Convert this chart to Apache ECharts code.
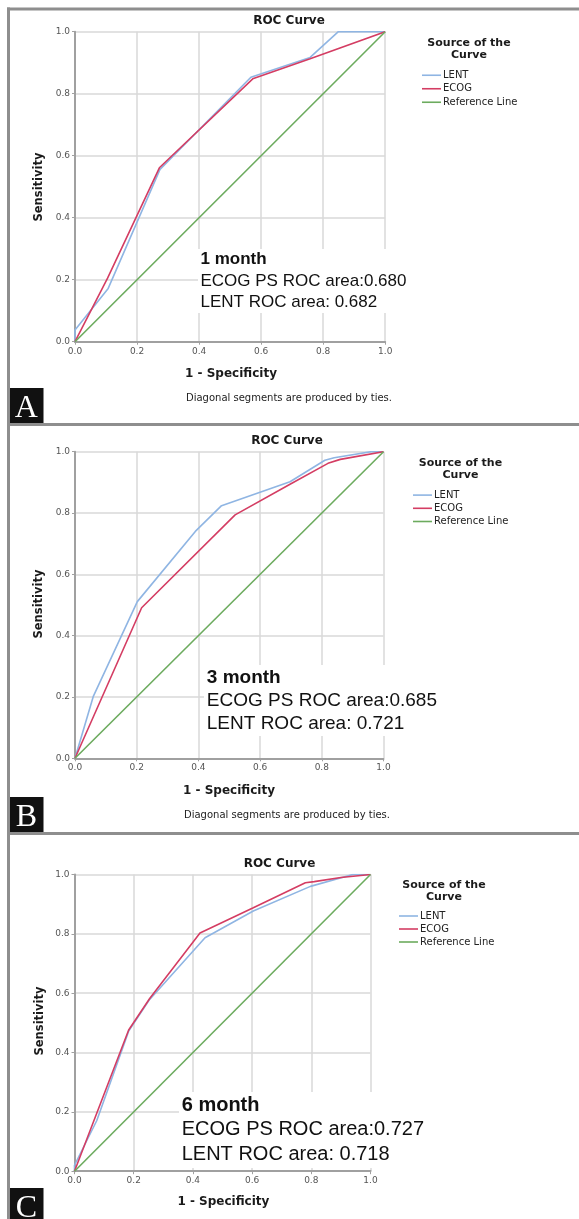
<!DOCTYPE html>
<html>
<head>
<meta charset="utf-8">
<script src="https://cdn.jsdelivr.net/npm/echarts@6/dist/echarts.min.js"></script>
<style>
html,body{margin:0;padding:0;background:#fff;}
#c{width:579px;height:1219px;}
</style>
</head>
<body>
<div id="c"></div>
<script>
// ---- data (1 - specificity, sensitivity) ----
const A_LENT = [[0,0],[0,0.038],[0.107,0.172],[0.274,0.556],[0.567,0.853],[0.758,0.917],[0.849,1],[1,1]];
const A_ECOG = [[0,0],[0.105,0.205],[0.272,0.561],[0.573,0.848],[0.758,0.913],[1,1]];
const B_LENT = [[0,0],[0.059,0.201],[0.202,0.511],[0.39,0.74],[0.475,0.824],[0.697,0.902],[0.81,0.972],[0.84,0.98],[0.96,1],[1,1]];
const B_ECOG = [[0,0],[0.216,0.491],[0.519,0.794],[0.697,0.894],[0.82,0.962],[0.86,0.975],[1,1]];
const C_LENT = [[0,0],[0,0.02],[0.075,0.17],[0.183,0.472],[0.254,0.579],[0.441,0.787],[0.604,0.877],[0.797,0.96],[0.94,1],[1,1]];
const C_ECOG = [[0,0],[0.183,0.476],[0.254,0.582],[0.424,0.803],[0.604,0.888],[0.78,0.972],[0.81,0.976],[0.9,0.99],[1,1]];
const REF = [[0,0],[1,1]];
const SERIES_NAMES = ['LENT','ECOG','Reference Line'];
const PANEL_LETTERS = ['A','B','C'];
const PERIODS = ['1 month','3 month','6 month'];
const ECOG_AUC = ['0.680','0.685','0.727'];
const LENT_AUC = ['0.682','0.721','0.718'];
const TITLE = 'ROC Curve';
const X_NAME = '1 - Specificity';
const Y_NAME = 'Sensitivity';
const FOOT = 'Diagonal segments are produced by ties.';

const COLORS = {LENT:'#8fb5e3', ECOG:'#d43d63', REF:'#6cab5e'};

// ---- layout ----
const P = [
  {grid:{left:75,top:31.7,width:310.2,height:310}, title:[289,21], src:[469,43], leg:{left:422,top:68.5,lh:13.5},
   ann:{x:200.5,y:[259,281,302],fs:17,box:[198,249,212,64]}, xname:[231,374], yname:[39,187], foot:[289,398], box:[388,423]},
  {grid:{left:75,top:451.7,width:308.5,height:306.6}, title:[287,440.7], src:[460.5,462.7], leg:{left:413,top:488.5,lh:13.2},
   ann:{x:206.8,y:[677.7,701,723.3],fs:19,box:[204,665,232,71]}, xname:[229,791], yname:[39,604], foot:[287,815], box:[797,832]},
  {grid:{left:74.5,top:874.5,width:296,height:296.7}, title:[279.5,864], src:[444,885], leg:{left:399,top:909.5,lh:13},
   ann:{x:181.7,y:[1105,1129,1154],fs:20,box:[179,1092,248,76]}, xname:[223.4,1202], yname:[40,1021], foot:null, box:[1188,1225]}
];
const DATA = [[A_LENT,A_ECOG],[B_LENT,B_ECOG],[C_LENT,C_ECOG]];

const grids=[], xAxes=[], yAxes=[], series=[], legends=[], graphics=[];
const axisCommon = {
  type:'value', min:0, max:1, interval:0.2,
  axisLine:{show:true, lineStyle:{color:'#a0a0a0', width:2}},
  axisTick:{show:true, length:3, lineStyle:{color:'#a0a0a0', width:1}},
  splitLine:{show:true, lineStyle:{color:'#d9d9d9', width:1.5}},
  axisLabel:{fontSize:9, color:'#555', fontFamily:'DejaVu Sans', formatter:v=>v.toFixed(1)}
};
P.forEach((p,i)=>{
  grids.push(Object.assign({}, p.grid));
  xAxes.push(Object.assign({}, axisCommon, {gridIndex:i, axisLabel:Object.assign({}, axisCommon.axisLabel,{margin:5})}));
  yAxes.push(Object.assign({}, axisCommon, {gridIndex:i, axisLabel:Object.assign({}, axisCommon.axisLabel,{margin:5})}));
  const mk=(name,data,color)=>({type:'line', name, xAxisIndex:i, yAxisIndex:i, data, showSymbol:false, symbol:'none',
    lineStyle:{color, width:1.6}, itemStyle:{color}, animation:false, silent:true});
  series.push(mk('LENT', DATA[i][0], COLORS.LENT));
  series.push(mk('ECOG', DATA[i][1], COLORS.ECOG));
  series.push(mk('Reference Line', REF, COLORS.REF));
  legends.push({data:SERIES_NAMES, orient:'vertical', left:p.leg.left, top:p.leg.top, padding:0, icon:'rect',
    itemWidth:19, itemHeight:1.6, itemGap:0, selectedMode:false,
    textStyle:{fontSize:10, fontFamily:'DejaVu Sans', color:'#222', lineHeight:p.leg.lh, padding:[0,0,0,-3]}});
  const T=(x,y,text,font,opt)=>graphics.push(Object.assign({type:'text', x, y, z:101, style:Object.assign({text, font, fill:'#1a1a1a', align:'center', verticalAlign:'middle'}, opt||{})}));
  T(p.title[0], p.title[1], TITLE, 'bold 12px "DejaVu Sans"');
  T(p.src[0], p.src[1], 'Source of the', 'bold 11px "DejaVu Sans"');
  T(p.src[0], p.src[1]+12.6, 'Curve', 'bold 11px "DejaVu Sans"');
  T(p.xname[0], p.xname[1], X_NAME, 'bold 12px "DejaVu Sans"');
  graphics.push({type:'text', x:p.yname[0], y:p.yname[1], rotation:Math.PI/2,
    style:{text:Y_NAME, font:'bold 11.5px "DejaVu Sans"', fill:'#1a1a1a', align:'center', verticalAlign:'middle'}});
  if(p.foot) T(p.foot[0], p.foot[1], FOOT, '10px "DejaVu Sans"', {fill:'#222'});
  const fs=p.ann.fs, b=p.ann.box;
  graphics.push({type:'rect', z:100, shape:{x:b[0], y:b[1], width:b[2], height:b[3]}, style:{fill:'#fff'}});
  T(p.ann.x, p.ann.y[0], PERIODS[i], 'bold '+fs+'px "Liberation Sans"', {align:'left', fill:'#111'});
  T(p.ann.x, p.ann.y[1], 'ECOG PS ROC area:'+ECOG_AUC[i], fs+'px "Liberation Sans"', {align:'left', fill:'#111'});
  T(p.ann.x, p.ann.y[2], 'LENT ROC area: '+LENT_AUC[i], fs+'px "Liberation Sans"', {align:'left', fill:'#111'});
  // panel letter box
  graphics.push({type:'rect', shape:{x:9, y:p.box[0], width:34.5, height:p.box[1]-p.box[0]}, style:{fill:'#111'}, z:110});
  graphics.push({type:'text', x:26.3, y:(p.box[0]+Math.min(p.box[1],p.box[0]+35))/2+3, z:111,
    style:{text:PANEL_LETTERS[i], font:'32px "Liberation Serif"', fill:'#fff', align:'center', verticalAlign:'middle'}});
});
// frame lines
const FR='#8e8e8e';
graphics.push({type:'line', shape:{x1:8.5, y1:7.5, x2:8.5, y2:1219}, style:{stroke:FR, lineWidth:3}, z:120});
[9, 424.5, 833.5].forEach(y=>graphics.push({type:'line', shape:{x1:7, y1:y, x2:579, y2:y}, style:{stroke:FR, lineWidth:3}, z:120}));

const chart = echarts.init(document.getElementById('c'), null, {renderer:'canvas'});
chart.setOption({
  backgroundColor:'#fff', animation:false,
  grid:grids, xAxis:xAxes, yAxis:yAxes, series, legend:legends, graphic:graphics
});
</script>
</body>
</html>
